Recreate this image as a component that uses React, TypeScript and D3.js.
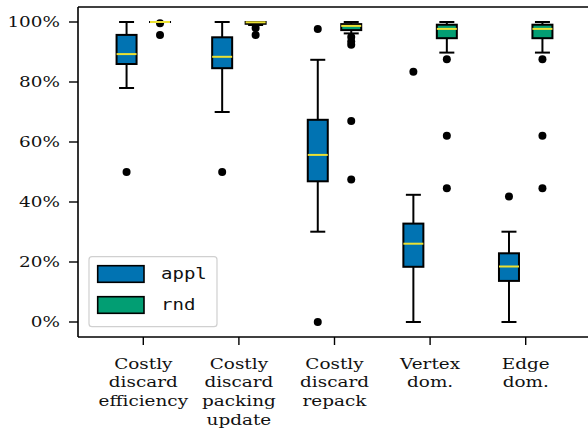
import React from "react";
import * as d3 from "d3";

const categories: string[][] = [
  ["Costly", "discard", "efficiency"],
  ["Costly", "discard", "packing", "update"],
  ["Costly", "discard", "repack"],
  ["Vertex", "dom."],
  ["Edge", "dom."],
];
const seriesNames = ["appl", "rnd"];
const seriesColors = ["#0173b2", "#029e73"];
const medianColor = "#ece133";

// [whiskerLow, q1, median, q3, whiskerHigh]
const applStats: number[][] = [
  [78, 86, 89.3, 95.7, 100],
  [70, 84.6, 88.4, 94.9, 100],
  [30.1, 46.9, 55.7, 67.4, 87.4],
  [0, 18.4, 26.1, 32.8, 42.4],
  [0, 13.7, 18.5, 22.9, 30.1],
];
const applOutliers: number[][] = [[50], [50], [97.7, 0], [83.4], [41.8]];

const rndStats: number[][] = [
  [100, 100, 100, 100, 100],
  [99.0, 99.4, 99.9, 100, 100],
  [96.2, 97.3, 98.7, 99.3, 100],
  [89.8, 94.6, 97.7, 99.1, 100],
  [89.8, 94.6, 97.7, 99.1, 100],
];
const rndOutliers: number[][] = [
  [99.6, 95.7],
  [98.0, 95.7],
  [95.0, 93.5, 92.4, 67, 47.5],
  [87.6, 62.1, 44.6],
  [87.6, 62.1, 44.6],
];

const yTicks = [0, 20, 40, 60, 80, 100];

const W = 588;
const H = 430;
const left = 78;
const right = 591;
const top = 7;
const bottom = 337;

const SX = 1.27;
const serif = "DejaVu Serif";
const mono = "DejaVu Sans Mono";

export default function App() {
  const x = d3.scaleLinear().domain([-0.683, 4.683]).range([left, right]);
  const y = d3.scaleLinear().domain([-5, 105]).range([bottom, top]);
  const unit = x(1) - x(0);
  const offset = 0.175 * unit;
  const boxW = 20;
  const capW = 15;

  const series = [
    { stats: applStats, outliers: applOutliers, color: seriesColors[0], dx: -offset },
    { stats: rndStats, outliers: rndOutliers, color: seriesColors[1], dx: offset },
  ];

  return (
    <svg
      width={W}
      height={H}
      style={{ position: "absolute", left: 0, top: 0, background: "#fff" }}
    >
      {series.map((s, si) => (
        <g key={si}>
          {s.stats.map((st, ci) => {
            const cx = x(ci) + s.dx;
            const [lo, q1, med, q3, hi] = st;
            return (
              <g key={ci}>
                <line x1={cx} x2={cx} y1={y(q3)} y2={y(hi)} stroke="#000" strokeWidth={2} />
                <line x1={cx} x2={cx} y1={y(q1)} y2={y(lo)} stroke="#000" strokeWidth={2} />
                <line x1={cx - capW / 2} x2={cx + capW / 2} y1={y(hi)} y2={y(hi)} stroke="#000" strokeWidth={2} />
                <line x1={cx - capW / 2} x2={cx + capW / 2} y1={y(lo)} y2={y(lo)} stroke="#000" strokeWidth={2} />
                <rect
                  x={cx - boxW / 2}
                  y={y(q3)}
                  width={boxW}
                  height={Math.max(0.01, y(q1) - y(q3))}
                  fill={s.color}
                  stroke="#000"
                  strokeWidth={2}
                />
                {s.outliers[ci].map((o, oi) => (
                  <circle key={oi} cx={cx} cy={y(o)} r={4} fill="#000" />
                ))}
                <line
                  x1={cx - boxW / 2}
                  x2={cx + boxW / 2}
                  y1={y(med)}
                  y2={y(med)}
                  stroke={medianColor}
                  strokeWidth={2}
                />
              </g>
            );
          })}
        </g>
      ))}

      {/* spines */}
      <line x1={left} x2={left} y1={top} y2={bottom} stroke="#000" strokeWidth={1.6} />
      <line x1={left} x2={right} y1={top} y2={top} stroke="#000" strokeWidth={1.6} />
      <line x1={left} x2={right} y1={bottom} y2={bottom} stroke="#000" strokeWidth={1.6} />
      <line x1={right} x2={right} y1={top} y2={bottom} stroke="#000" strokeWidth={1.6} />

      {/* y axis */}
      {yTicks.map((t) => (
        <g key={t}>
          <line x1={left - 9} x2={left} y1={y(t)} y2={y(t)} stroke="#000" strokeWidth={1.4} />
          <text
            transform={`translate(${left - 18},${y(t) + 5}) scale(${SX},1)`}
            textAnchor="end"
            style={{ fontFamily: serif, fontSize: "14.5px", fontWeight: 400 }}
            fill="#111"
          >
            {`${t}%`}
          </text>
        </g>
      ))}

      {/* x axis */}
      {categories.map((lines, ci) => (
        <g key={ci}>
          <line x1={x(ci)} x2={x(ci)} y1={bottom} y2={bottom + 8} stroke="#000" strokeWidth={1.4} />
          {lines.map((ln, li) => (
            <text
              key={li}
              transform={`translate(${x(ci)},${368.5 + li * 18.7}) scale(${SX},1)`}
              textAnchor="middle"
              style={{ fontFamily: serif, fontSize: "14.5px", fontWeight: 400 }}
              fill="#111"
            >
              {ln}
            </text>
          ))}
        </g>
      ))}

      {/* legend */}
      <g>
        <rect x={89} y={256.7} width={128} height={70} rx={3} fill="#fff" fillOpacity={0.85} stroke="#d0d0d0" strokeWidth={1.2} />
        {seriesNames.map((n, i) => (
          <g key={n}>
            <rect
              x={97.7}
              y={265.7 + i * 31}
              width={46.3}
              height={16.6}
              fill={seriesColors[i]}
              stroke="#000"
              strokeWidth={1.6}
            />
            <text
              transform={`translate(161,${279 + i * 31}) scale(1.27,1)`}
              style={{ fontFamily: mono, fontSize: "15px", fontWeight: 400 }}
              fill="#111"
            >
              {n}
            </text>
          </g>
        ))}
      </g>
    </svg>
  );
}
